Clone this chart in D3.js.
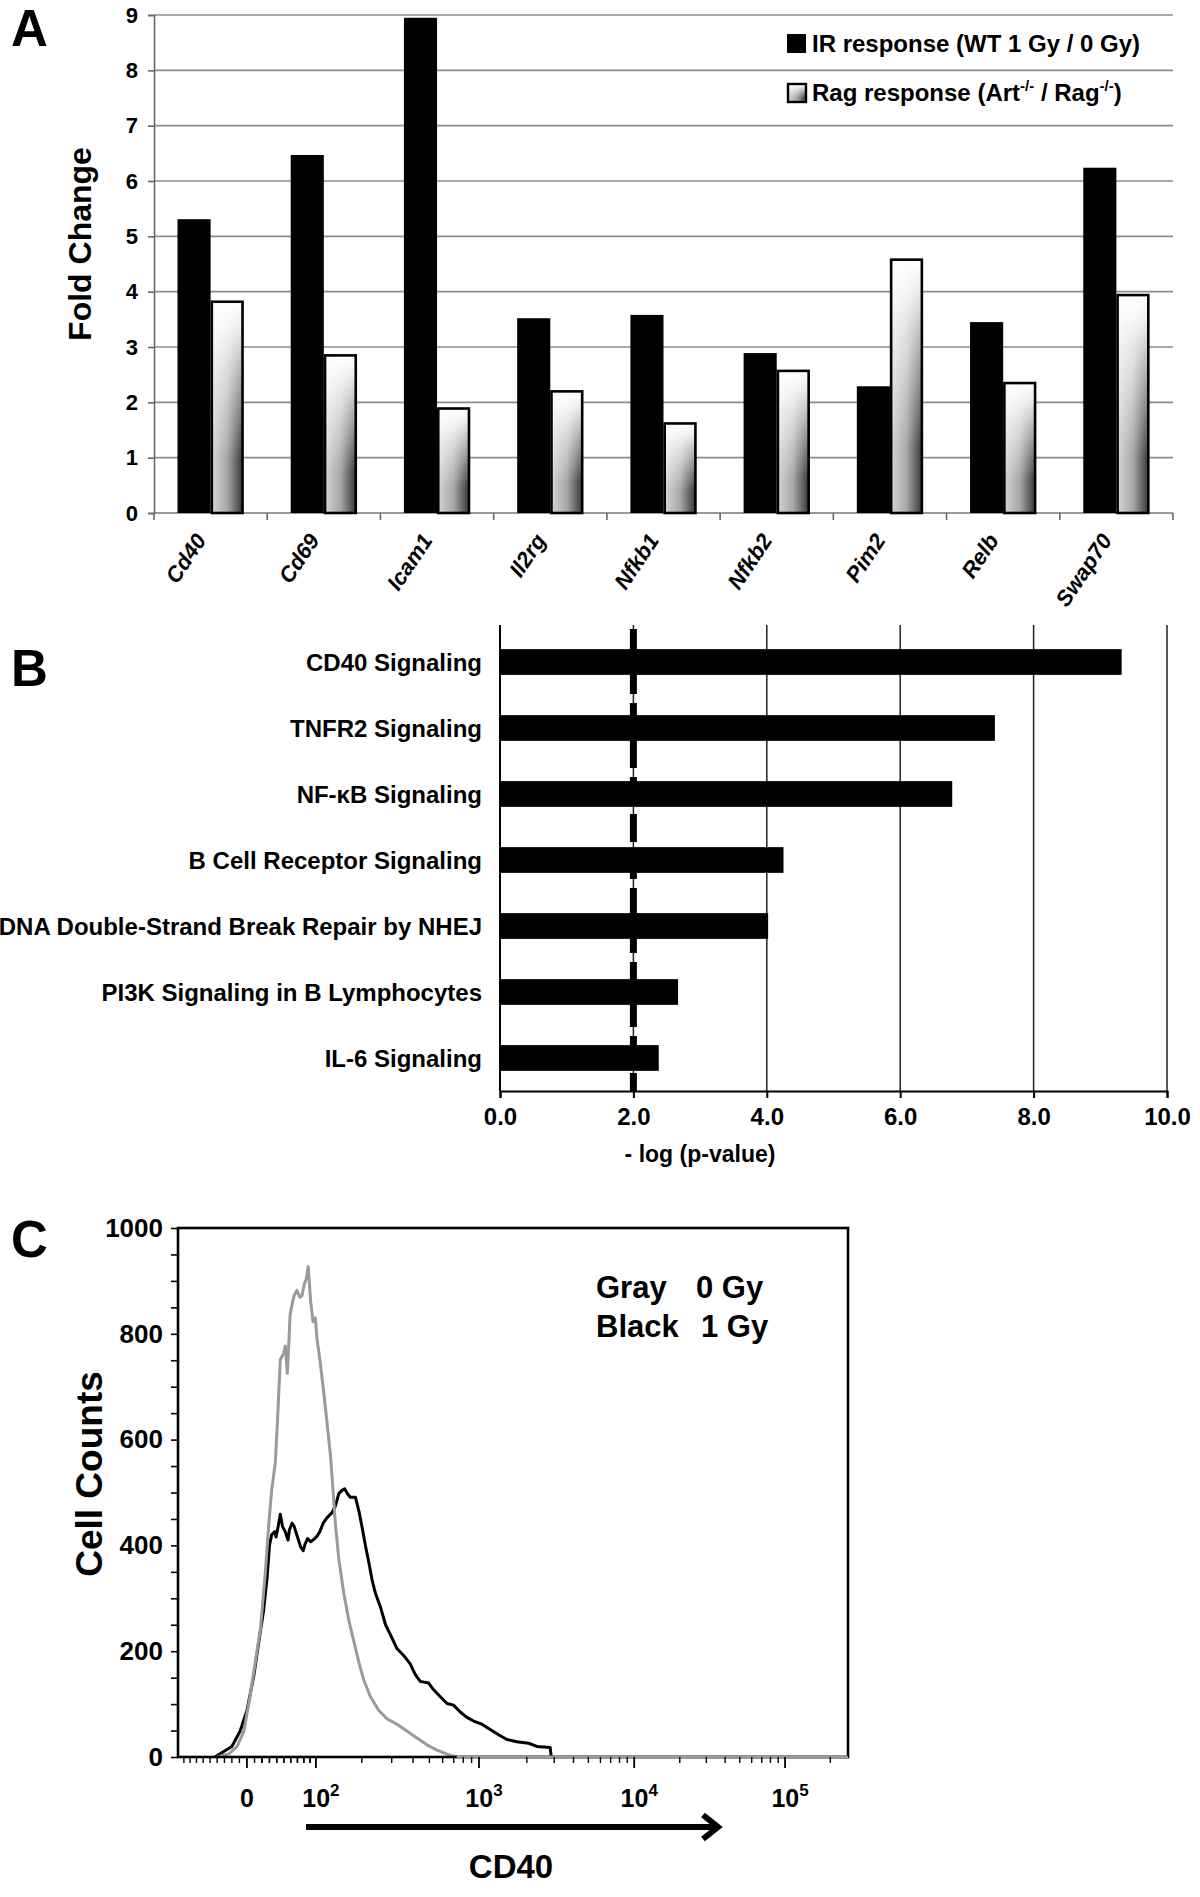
<!DOCTYPE html>
<html>
<head>
<meta charset="utf-8">
<script src="https://cdn.jsdelivr.net/npm/d3@7"></script>
<style>
  body { margin: 0; background: #fff; }
  svg text { font-family: "Liberation Sans", Arial, Helvetica, sans-serif; font-weight: bold; fill: #000; }
</style>
</head>
<body>
<svg id="fig" width="1200" height="1897"></svg>
<script>
// ---------- data: panel A (fold change) ----------
var genes = ["Cd40", "Cd69", "Icam1", "Il2rg", "Nfkb1", "Nfkb2", "Pim2", "Relb", "Swap70"];
var irResponse = [5.31, 6.47, 8.95, 3.52, 3.58, 2.89, 2.29, 3.45, 6.24];
var ragResponse = [3.84, 2.87, 1.91, 2.22, 1.64, 2.59, 4.60, 2.37, 3.96];
var foldTicks = [0, 1, 2, 3, 4, 5, 6, 7, 8, 9];

// ---------- data: panel B (pathways) ----------
var pathways = ["CD40 Signaling", "TNFR2 Signaling", "NF-\u03baB Signaling", "B Cell Receptor Signaling",
    "DNA Double-Strand Break Repair by NHEJ", "PI3K Signaling in B Lymphocytes", "IL-6 Signaling"];
var negLogP = [9.32, 7.42, 6.78, 4.25, 4.02, 2.67, 2.38];
var pTicks = [0, 2, 4, 6, 8, 10];
var pThreshold = 2.0;

// ---------- data: panel C (CD40 histograms, [fluorescence, cells]) ----------
var countTicks = [0, 200, 400, 600, 800, 1000];
var cd40Ticks = [0, 100, 1000, 10000, 100000];
var cd40Exp = ["", "2", "3", "4", "5"];
var gray0Gy = [[-40, 0], [-24, 6], [-13, 20], [-4, 49], [4, 114], [11, 179], [18, 244], [24, 342], [29, 439],
    [33, 504], [38, 556], [41, 634], [45, 751], [50, 764], [52, 777], [55, 725], [57, 777], [59, 836], [62, 856],
    [65, 872], [69, 882], [74, 869], [77, 872], [81, 895], [84, 904], [87, 927], [91, 862], [95, 823], [99, 830],
    [102, 790], [107, 751], [113, 699], [120, 634], [127, 569], [132, 504], [137, 439], [144, 374], [155, 309],
    [167, 257], [179, 218], [192, 179], [205, 146], [225, 114], [252, 88], [282, 72], [322, 62], [368, 49],
    [422, 36], [483, 23], [555, 13], [667, 3], [730, 0], [262144, 0]];
var black1Gy = [[-43, 0], [-36, 6], [-20, 20], [-9, 49], [0, 88], [9, 153], [15, 211], [22, 276], [27, 342],
    [30, 400], [33, 420], [37, 426], [39, 416], [42, 436], [45, 459], [48, 436], [52, 426], [56, 410], [58, 429],
    [62, 442], [65, 436], [69, 420], [75, 397], [79, 390], [82, 403], [86, 413], [91, 407], [95, 410], [101, 416],
    [107, 426], [113, 442], [120, 452], [130, 462], [137, 475], [144, 498], [151, 504], [157, 507], [163, 498],
    [170, 491], [183, 491], [192, 465], [201, 433], [210, 400], [220, 368], [230, 335], [241, 309], [258, 283],
    [276, 250], [295, 231], [322, 205], [352, 192], [385, 176], [412, 156], [441, 143], [494, 140], [530, 127],
    [581, 114], [637, 101], [698, 98], [767, 85], [842, 75], [926, 68], [1042, 62], [1174, 52], [1325, 42],
    [1495, 33], [1728, 29], [2052, 26], [2321, 20], [2825, 18], [2860, 3], [2900, 0]];

var FONT = "'Liberation Sans', Arial, Helvetica, sans-serif";
var svg = d3.select("#fig");
var defs = svg.append("defs");

// gradient used for the Rag bars: light on the left/top, dark at bottom right
var gh = defs.append("linearGradient").attr("id", "ragH")
    .attr("x1", 0).attr("y1", 0).attr("x2", 1).attr("y2", 0);
gh.append("stop").attr("offset", 0).attr("stop-color", "#d4d4d4");
gh.append("stop").attr("offset", 0.5).attr("stop-color", "#a8a8a8");
gh.append("stop").attr("offset", 1).attr("stop-color", "#383838");
var gv = defs.append("linearGradient").attr("id", "ragV")
    .attr("x1", 0).attr("y1", 0).attr("x2", 0).attr("y2", 1);
gv.append("stop").attr("offset", 0).attr("stop-color", "#fff").attr("stop-opacity", 1);
gv.append("stop").attr("offset", 0.12).attr("stop-color", "#fff").attr("stop-opacity", 0.9);
gv.append("stop").attr("offset", 0.75).attr("stop-color", "#fff").attr("stop-opacity", 0);

function panelLetter(t, y) {
    svg.append("text").attr("x", 11).attr("y", y).attr("font-size", 51).text(t);
}
panelLetter("A", 46);
panelLetter("B", 686);
panelLetter("C", 1257);

// ================= Panel A =================
var aLeft = 154, aRight = 1173, aTop = 15, aBottom = 513;
var yA = d3.scaleLinear().domain([0, 9]).range([aBottom, aTop]);
var xA = d3.scaleBand().domain(genes).range([aLeft, aRight]).paddingInner(0.415).paddingOuter(0.2075);
var xA2 = d3.scaleBand().domain(["ir", "rag"]).range([0, xA.bandwidth()]);
var gA = svg.append("g");

gA.append("g").selectAll("line").data(foldTicks.slice(1)).join("line")
    .attr("x1", aLeft).attr("x2", aRight)
    .attr("y1", function (d) { return yA(d); }).attr("y2", function (d) { return yA(d); })
    .attr("stroke", "#8c8c8c").attr("stroke-width", 1.6);

var yAxisA = gA.append("g").attr("transform", "translate(" + aLeft + ",0)")
    .call(d3.axisLeft(yA).tickValues(foldTicks).tickSize(6).tickPadding(10))
    .attr("font-family", FONT).attr("font-size", 22).attr("font-weight", "bold");
yAxisA.select(".domain").attr("stroke", "#666").attr("stroke-width", 1.6);
yAxisA.selectAll(".tick line").attr("stroke", "#666").attr("stroke-width", 1.6);

// x baseline with ticks between the gene groups
gA.append("line").attr("x1", aLeft).attr("x2", aRight).attr("y1", yA(0)).attr("y2", yA(0))
    .attr("stroke", "#777").attr("stroke-width", 1.6);
var bounds = genes.map(function (g) { return xA(g) - xA.step() * xA.paddingOuter(); }).concat([aRight]);
gA.append("g").selectAll("line").data(bounds).join("line")
    .attr("x1", function (d) { return d; }).attr("x2", function (d) { return d; })
    .attr("y1", yA(0)).attr("y2", yA(0) + 7)
    .attr("stroke", "#666").attr("stroke-width", 1.6);

var grp = gA.append("g").selectAll("g").data(genes).join("g")
    .attr("transform", function (g) { return "translate(" + xA(g) + ",0)"; });
grp.append("rect")
    .attr("x", xA2("ir")).attr("width", xA2.bandwidth())
    .attr("y", function (g, i) { return yA(irResponse[i]); })
    .attr("height", function (g, i) { return yA(0) - yA(irResponse[i]); })
    .attr("fill", "#000");
grp.append("rect")
    .attr("x", xA2("rag") + 1.2).attr("width", xA2.bandwidth() - 2.4)
    .attr("y", function (g, i) { return yA(ragResponse[i]) + 1.2; })
    .attr("height", function (g, i) { return yA(0) - yA(ragResponse[i]) - 1.2; })
    .attr("fill", "url(#ragH)");
grp.append("rect")
    .attr("x", xA2("rag") + 1.2).attr("width", xA2.bandwidth() - 2.4)
    .attr("y", function (g, i) { return yA(ragResponse[i]) + 1.2; })
    .attr("height", function (g, i) { return yA(0) - yA(ragResponse[i]) - 1.2; })
    .attr("fill", "url(#ragV)")
    .attr("stroke", "#000").attr("stroke-width", 2.6);

gA.append("g").selectAll("text").data(genes).join("text")
    .attr("transform", function (g) {
        return "translate(" + (xA(g) + xA.bandwidth() / 2 - 10) + ",536) rotate(-56)";
    })
    .attr("text-anchor", "end").attr("dy", "0.35em")
    .attr("font-size", 22).attr("font-style", "italic")
    .text(function (g) { return g; });

gA.append("text")
    .attr("transform", "translate(91,244) rotate(-90)")
    .attr("text-anchor", "middle").attr("font-size", 32)
    .text("Fold Change");

// legend
var lg = gA.append("g");
lg.append("rect").attr("x", 787).attr("y", 34).attr("width", 19).attr("height", 19).attr("fill", "#000");
lg.append("rect").attr("x", 788).attr("y", 84).attr("width", 18).attr("height", 18).attr("fill", "url(#ragH)");
lg.append("rect").attr("x", 788).attr("y", 84).attr("width", 18).attr("height", 18)
    .attr("fill", "url(#ragV)").attr("stroke", "#000").attr("stroke-width", 2.4);
lg.append("text").attr("x", 812).attr("y", 52).attr("font-size", 24).text("IR response (WT 1 Gy / 0 Gy)");
var rt = lg.append("text").attr("x", 812).attr("y", 101).attr("font-size", 24);
rt.append("tspan").text("Rag response (Art");
rt.append("tspan").attr("font-size", 15).attr("dy", -10).text("-/-");
rt.append("tspan").attr("dy", 10).text(" / Rag");
rt.append("tspan").attr("font-size", 15).attr("dy", -10).text("-/-");
rt.append("tspan").attr("dy", 10).text(")");

// ================= Panel B =================
var bLeft = 500, bRight = 1167, bTop = 629, bBottom = 1091;
var xB = d3.scaleLinear().domain([0, 10]).range([bLeft, bRight]);
var yB = d3.scaleBand().domain(pathways).range([bTop, bBottom]).paddingInner(0.61).paddingOuter(0.305);
var gB = svg.append("g");

gB.append("g").selectAll("line").data(pTicks.slice(1)).join("line")
    .attr("x1", function (d) { return xB(d); }).attr("x2", function (d) { return xB(d); })
    .attr("y1", bTop - 4).attr("y2", bBottom)
    .attr("stroke", "#222").attr("stroke-width", 1.5);
gB.append("line").attr("x1", bLeft).attr("x2", bLeft).attr("y1", bTop - 4).attr("y2", bBottom)
    .attr("stroke", "#000").attr("stroke-width", 2);

gB.append("g").selectAll("rect").data(pathways).join("rect")
    .attr("x", xB(0))
    .attr("y", function (d) { return yB(d); })
    .attr("height", yB.bandwidth())
    .attr("width", function (d, i) { return xB(negLogP[i]) - xB(0); })
    .attr("fill", "#000");

gB.append("line")
    .attr("x1", xB(pThreshold)).attr("x2", xB(pThreshold))
    .attr("y1", bTop).attr("y2", bBottom)
    .attr("stroke", "#000").attr("stroke-width", 7).attr("stroke-dasharray", "28 9");

var xAxisB = gB.append("g").attr("transform", "translate(0," + bBottom + ")")
    .call(d3.axisBottom(xB).tickValues(pTicks).tickFormat(d3.format(".1f")).tickSize(7).tickPadding(10))
    .attr("font-family", FONT).attr("font-size", 24).attr("font-weight", "bold");
xAxisB.select(".domain").attr("stroke", "#000").attr("stroke-width", 2);
xAxisB.selectAll(".tick line").attr("stroke", "#000").attr("stroke-width", 2);

gB.append("g").selectAll("text").data(pathways).join("text")
    .attr("x", 482)
    .attr("y", function (d) { return yB(d) + yB.bandwidth() / 2; })
    .attr("dy", "0.36em").attr("text-anchor", "end").attr("font-size", 24)
    .text(function (d) { return d; });

gB.append("text").attr("x", 700).attr("y", 1162).attr("text-anchor", "middle")
    .attr("font-size", 23).text("- log (p-value)");

// ================= Panel C =================
// biexponential (logicle-style) display: data value -> decades from zero
function logicleS(u) {
    var a = Math.abs(u);
    var s = 26.2144 * (Math.pow(10, a) - 5.244 * Math.pow(10, -a / 2.29) + 4.244);
    return u < 0 ? -s : s;
}
function logicle(v) {
    if (v < 0) return -logicle(-v);
    var lo = 0, hi = 6;
    for (var k = 0; k < 60; k++) {
        var mid = (lo + hi) / 2;
        if (logicleS(mid) < v) lo = mid; else hi = mid;
    }
    return (lo + hi) / 2;
}

var cLeft = 178, cRight = 848, cTop = 1228, cBottom = 1757;
var xC = d3.scaleLinear().domain([logicle(-100), logicle(262144)]).range([cLeft, cRight]);
var yC = d3.scaleLinear().domain([0, 1000]).range([cBottom, cTop]);
function xCv(v) { return xC(logicle(v)); }
var gC = svg.append("g");

var line = d3.line()
    .x(function (d) { return xCv(d[0]); })
    .y(function (d) { return yC(d[1]); });
gC.append("path").datum(black1Gy)
    .attr("fill", "none").attr("stroke", "#000").attr("stroke-width", 3)
    .attr("stroke-linejoin", "round").attr("d", line);
gC.append("path").datum(gray0Gy)
    .attr("fill", "none").attr("stroke", "#9a9a9a").attr("stroke-width", 3)
    .attr("stroke-linejoin", "round").attr("d", line);

gC.append("rect").attr("x", cLeft).attr("y", cTop)
    .attr("width", cRight - cLeft).attr("height", cBottom - cTop)
    .attr("fill", "none").attr("stroke", "#000").attr("stroke-width", 2.6);
// redraw the flat gray baseline over the frame
gC.append("path").datum(gray0Gy.slice(-2))
    .attr("fill", "none").attr("stroke", "#9a9a9a").attr("stroke-width", 2.4).attr("d", line);

var yAxisC = gC.append("g").attr("transform", "translate(" + cLeft + ",0)")
    .call(d3.axisLeft(yC).tickValues(d3.range(0, 1001, 50))
        .tickFormat(function (d) { return countTicks.indexOf(d) >= 0 ? d : ""; })
        .tickSize(7).tickPadding(8))
    .attr("font-family", FONT).attr("font-size", 26).attr("font-weight", "bold");
yAxisC.select(".domain").remove();
yAxisC.selectAll(".tick line").attr("stroke", "#000").attr("stroke-width", 1.6);

// x ticks: majors at 0 and decades, minors in between
var minorC = [];
[10, 100, 1000, 10000].forEach(function (dec) {
    for (var m = 2; m <= 9; m++) minorC.push(m * dec);
});
[10, 20, 30, 40, 50, 60, 70, 80, 90].forEach(function (v) { minorC.push(v); minorC.push(-v); });
minorC.push(200000);
gC.append("g").selectAll("line").data(minorC).join("line")
    .attr("x1", function (d) { return xCv(d); }).attr("x2", function (d) { return xCv(d); })
    .attr("y1", cBottom).attr("y2", cBottom + 6)
    .attr("stroke", "#000").attr("stroke-width", 1.4);
gC.append("g").selectAll("line").data(cd40Ticks).join("line")
    .attr("x1", function (d) { return xCv(d); }).attr("x2", function (d) { return xCv(d); })
    .attr("y1", cBottom).attr("y2", cBottom + 11)
    .attr("stroke", "#000").attr("stroke-width", 1.8);

var xl = gC.append("g").selectAll("text").data(cd40Ticks).join("text")
    .attr("x", function (d, i) { return xCv(d) + (i === 0 ? 0 : 5); })
    .attr("y", 1807).attr("text-anchor", "middle").attr("font-size", 25);
xl.append("tspan").text(function (d, i) { return i === 0 ? "0" : "10"; });
xl.append("tspan").attr("font-size", 17).attr("dy", -11).text(function (d, i) { return cd40Exp[i]; });

gC.append("text")
    .attr("transform", "translate(102,1474) rotate(-90)")
    .attr("text-anchor", "middle").attr("font-size", 37)
    .text("Cell Counts");

gC.append("text").attr("x", 596).attr("y", 1298).attr("font-size", 31).text("Gray");
gC.append("text").attr("x", 696).attr("y", 1298).attr("font-size", 31).text("0 Gy");
gC.append("text").attr("x", 596).attr("y", 1337).attr("font-size", 31).text("Black");
gC.append("text").attr("x", 701).attr("y", 1337).attr("font-size", 31).text("1 Gy");

gC.append("line").attr("x1", 306).attr("x2", 716).attr("y1", 1827).attr("y2", 1827)
    .attr("stroke", "#000").attr("stroke-width", 6);
gC.append("polyline").attr("points", "703,1815 718,1827 703,1839")
    .attr("fill", "none").attr("stroke", "#000").attr("stroke-width", 6);
gC.append("text").attr("x", 511).attr("y", 1878).attr("text-anchor", "middle")
    .attr("font-size", 33).text("CD40");
</script>
</body>
</html>
